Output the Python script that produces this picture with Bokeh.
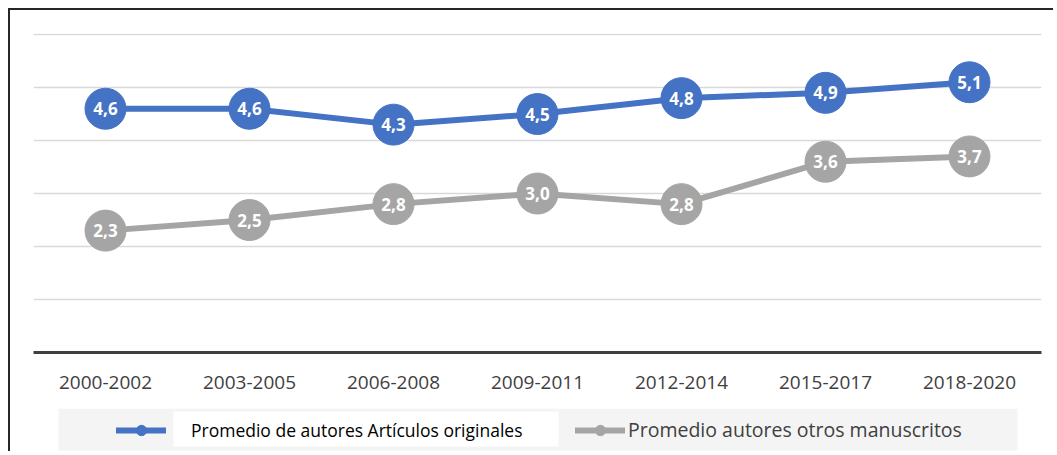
from bokeh.plotting import figure
from bokeh.layouts import column
from bokeh.models import ColumnDataSource, Range1d, FactorRange, Legend, LegendItem, BoxAnnotation
from bokeh.core.properties import value
from bokeh.embed import file_html
from bokeh.resources import INLINE

categories = ["2000-2002", "2003-2005", "2006-2008", "2009-2011", "2012-2014", "2015-2017", "2018-2020"]
originales = [4.6, 4.6, 4.3, 4.5, 4.8, 4.9, 5.1]
otros = [2.3, 2.5, 2.8, 3.0, 2.8, 3.6, 3.7]
series_names = ["Promedio de autores Artículos originales", "Promedio autores otros manuscritos"]

BLUE = "#4472C4"
GRAY = "#A5A5A5"
FONT = "Open Sans"
FRAME = "2px solid #262626"
NAN = float("nan")

def fmt(v):
    return f"{v:.1f}".replace(".", ",")

src1 = ColumnDataSource(dict(x=categories, y=originales, lab=[fmt(v) for v in originales]))
src2 = ColumnDataSource(dict(x=categories, y=otros, lab=[fmt(v) for v in otros]))

p = figure(width=1045, height=400, x_range=FactorRange(*categories), y_range=Range1d(0, 6.02),
           output_backend="svg", toolbar_location=None,
           min_border_left=23, min_border_right=14, min_border_top=23, min_border_bottom=58)
p.styles = {"border-top": FRAME, "border-left": FRAME}
p.outline_line_color = None
p.background_fill_color = "white"
p.border_fill_color = "white"

p.yaxis.visible = False
p.ygrid.ticker = [1, 2, 3, 4, 5, 6]
p.ygrid.grid_line_color = "#d9d9d9"
p.ygrid.grid_line_width = 1.5
p.xgrid.visible = False

ax = p.xaxis[0]
ax.axis_line_color = "#404040"
ax.axis_line_width = 3
ax.major_tick_line_color = None
ax.minor_tick_line_color = None
ax.major_tick_out = 0
ax.major_label_standoff = 23
ax.major_label_text_font = FONT
ax.major_label_text_font_size = "19px"
ax.major_label_text_color = "#404040"

p.line("x", "y", source=src2, line_color=GRAY, line_width=6, line_cap="round", line_join="round")
p.scatter("x", "y", source=src2, size=41, fill_color=GRAY, line_color=GRAY)
p.line("x", "y", source=src1, line_color=BLUE, line_width=6, line_cap="round", line_join="round")
p.scatter("x", "y", source=src1, size=41, fill_color=BLUE, line_color=BLUE)

for src in (src1, src2):
    p.text("x", "y", text="lab", source=src, text_color="white", text_font=value(FONT),
           text_font_style="bold", text_font_size="17px", text_align="center", text_baseline="middle")

# Legend strip (separate canvas below the chart); its ranges follow page pixels
p2 = figure(width=1045, height=43, x_range=Range1d(33, 1041), y_range=Range1d(453, 410),
            output_backend="svg", toolbar_location=None,
            min_border_left=23, min_border_right=14, min_border_top=0, min_border_bottom=0)
p2.styles = {"border-left": FRAME}
p2.axis.visible = False
p2.grid.visible = False
p2.outline_line_color = None
p2.background_fill_color = "white"
p2.border_fill_color = "white"

p2.add_layout(BoxAnnotation(left=58, right=1017, top=410, bottom=452, fill_color="#f4f4f4",
                            fill_alpha=1, line_color=None))
p2.add_layout(BoxAnnotation(left=173, right=558, top=413, bottom=448, fill_color="white",
                            fill_alpha=1, line_color=None))

el1 = p2.line([NAN], [NAN], line_color=BLUE, line_width=6, line_cap="round")
es1 = p2.scatter([NAN], [NAN], size=11, fill_color=BLUE, line_color=BLUE)
el2 = p2.line([NAN], [NAN], line_color=GRAY, line_width=6, line_cap="round")
es2 = p2.scatter([NAN], [NAN], size=11, fill_color=GRAY, line_color=GRAY)

common = dict(orientation="horizontal", background_fill_alpha=0, border_line_color=None,
              glyph_width=50, glyph_height=26, label_height=20, padding=10, spacing=0, margin=0,
              label_text_font=FONT)
leg1 = Legend(items=[LegendItem(label=series_names[0], renderers=[el1, es1])],
              location=(83, 8), label_standoff=25, label_text_font_size="17.5px",
              label_text_color="black", **common)
leg2 = Legend(items=[LegendItem(label=series_names[1], renderers=[el2, es2])],
              location=(542, 8), label_standoff=3, label_text_font_size="19.5px",
              label_text_color="#404040", **common)
p2.add_layout(leg1, "center")
p2.add_layout(leg2, "center")

layout = column(p, p2, spacing=0, margin=(8, 0, 0, 8))
open("out.html", "w").write(file_html(layout, INLINE))
